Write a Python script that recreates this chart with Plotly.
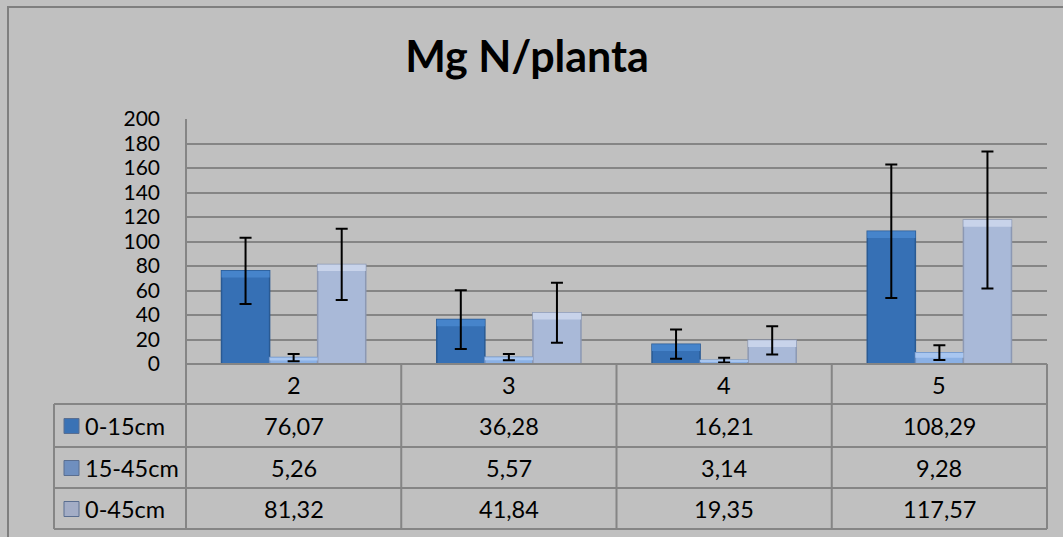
import plotly.graph_objects as go

categories = ["2", "3", "4", "5"]
series_names = ["0-15cm", "15-45cm", "0-45cm"]
v_0_15 = [76.07, 36.28, 16.21, 108.29]
v_15_45 = [5.26, 5.57, 3.14, 9.28]
v_0_45 = [81.32, 41.84, 19.35, 117.57]
err_0_15 = [27, 24, 12, 54.5]
err_15_45 = [3, 2.5, 2, 6]
err_0_45 = [29, 24.5, 11.5, 56]
value_labels = {
    "0-15cm": ["76,07", "36,28", "16,21", "108,29"],
    "15-45cm": ["5,26", "5,57", "3,14", "9,28"],
    "0-45cm": ["81,32", "41,84", "19,35", "117,57"],
}
y_ticks = [0, 20, 40, 60, 80, 100, 120, 140, 160, 180, 200]

W, H = 1063, 537
L, R, T, B = 186, 1047, 119, 364  # plot area in pixels

fill_cols = ["#3670B5", "#8AB0E4", "#A9B9D8"]
line_cols = ["#2A5A93", "#6A8FC4", "#8C98B3"]
hi_cols = ["#4684CB", "#A8C6F0", "#C8D3EA"]
icon_cols = ["#3A72B5", "#6F8FBF", "#A3ADC6"]
FONT = "Lato"
TXT = 23.5
TICK = 21
BEVEL = 5.5  # data units of the lighter top bevel band

def px(xp):
    return (xp - L) / (R - L)

def py(yp):
    return (B - yp) / (B - T)

fig = go.Figure()
vals = [v_0_15, v_15_45, v_0_45]
errs = [err_0_15, err_15_45, err_0_45]
for i, name in enumerate(series_names):
    fig.add_trace(go.Bar(
        x=categories, y=vals[i], name=name, offsetgroup=name,
        marker=dict(color=fill_cols[i], line=dict(color=line_cols[i], width=1.5)),
        showlegend=False, hoverinfo="skip",
    ))
for i, name in enumerate(series_names):
    h = [min(BEVEL, v * 0.45) for v in vals[i]]
    fig.add_trace(go.Bar(
        x=categories, y=h, base=[v - hh for v, hh in zip(vals[i], h)],
        name=name, offsetgroup=name,
        marker=dict(color=hi_cols[i], line=dict(width=0)),
        error_y=dict(type="data", array=errs[i], visible=True,
                     color="black", thickness=2, width=6),
        showlegend=False,
    ))

shapes = []
line_c = "#858585"
# outer chart border
shapes.append(dict(type="rect", xref="paper", yref="paper",
                   x0=px(8), x1=px(1070), y0=py(545), y1=py(7),
                   line=dict(color="#7F7F7F", width=2)))
# table horizontal lines
for yy in [404, 447, 488, 529]:
    shapes.append(dict(type="line", xref="paper", yref="paper",
                       x0=px(54), x1=px(R), y0=py(yy), y1=py(yy),
                       line=dict(color=line_c, width=2)))
# axis line
shapes.append(dict(type="line", xref="paper", yref="paper",
                   x0=0, x1=1, y0=0, y1=0, line=dict(color=line_c, width=2)))
# vertical lines
shapes.append(dict(type="line", xref="paper", yref="paper",
                   x0=px(54), x1=px(54), y0=py(404), y1=py(529),
                   line=dict(color=line_c, width=2)))
shapes.append(dict(type="line", xref="paper", yref="paper",
                   x0=0, x1=0, y0=py(529), y1=1,
                   line=dict(color=line_c, width=2)))
shapes.append(dict(type="line", xref="paper", yref="paper",
                   x0=1, x1=1, y0=py(529), y1=0,
                   line=dict(color=line_c, width=2)))
for k in range(1, len(categories)):
    shapes.append(dict(type="line", xref="x", yref="paper",
                       x0=k - 0.5, x1=k - 0.5, y0=py(529), y1=0,
                       line=dict(color=line_c, width=2)))

annotations = []
row_centers = [426, 468, 509]
for ci, c in enumerate(categories):
    annotations.append(dict(x=ci, y=py(385), xref="x", yref="paper",
                            text=c, showarrow=False,
                            xanchor="center", yanchor="middle",
                            font=dict(family=FONT, size=TXT, color="black")))
for ri, name in enumerate(series_names):
    yc = row_centers[ri]
    for ci, c in enumerate(categories):
        annotations.append(dict(x=ci, y=py(yc), xref="x", yref="paper",
                                text=value_labels[name][ci], showarrow=False,
                                xanchor="center", yanchor="middle",
                                font=dict(family=FONT, size=TXT, color="black")))
    annotations.append(dict(x=px(83), y=py(yc), xref="paper", yref="paper",
                            text=name, showarrow=False, xanchor="left",
                            yanchor="middle",
                            font=dict(family=FONT, size=TXT, color="black")))
    shapes.append(dict(type="rect", xref="paper", yref="paper",
                       x0=px(64), x1=px(79), y0=py(yc + 7.5), y1=py(yc - 7.5),
                       fillcolor=icon_cols[ri], line=dict(color="#5A6E90", width=1)))

fig.update_layout(
    width=W, height=H,
    margin=dict(l=L, r=W - R, t=T, b=H - B, pad=0),
    paper_bgcolor="#C0C0C0", plot_bgcolor="#C0C0C0",
    barmode="group", bargap=0.33, bargroupgap=0,
    title=dict(text="<b>Mg N/planta</b>", x=527 / W, xanchor="center",
               y=1 - 57 / H, yanchor="middle",
               font=dict(family=FONT, size=43, color="black")),
    xaxis=dict(type="category", range=[-0.5, len(categories) - 0.5],
               showticklabels=False, showgrid=False, zeroline=False,
               showline=False, ticks=""),
    yaxis=dict(range=[0, 200], tickvals=y_ticks, showgrid=True,
               gridcolor="#858585", gridwidth=1.5, zeroline=False,
               showline=False, ticks="", ticklabelstandoff=25,
               tickfont=dict(family=FONT, size=TICK, color="black")),
    shapes=shapes, annotations=annotations,
    showlegend=False,
)

fig.write_html(
    "out.html",
    config={"displayModeBar": False},
    post_script="document.body.style.margin='0';document.body.style.overflow='hidden';",
)
